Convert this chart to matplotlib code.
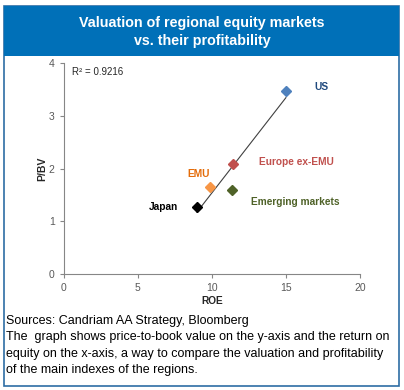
import numpy as np
from matplotlib import pyplot as plt
from matplotlib.patches import Rectangle

regions = ['US', 'Europe ex-EMU', 'EMU', 'Emerging markets', 'Japan']
roe = [15.0, 11.4, 9.86, 11.33, 8.99]
pbv = [3.47, 2.09, 1.65, 1.60, 1.27]
marker_colors = ['#4F81BD', '#C0504D', '#F79646', '#4F6228', '#000000']
label_colors = ['#1F497D', '#C0504D', '#E46C0A', '#4F6228', '#000000']
label_pos = [(17.4, 3.55), (15.7, 2.13), (9.1, 1.9), (15.6, 1.37), (6.76, 1.27)]
r2_text = 'R² = 0.9216'

plt.rcParams['font.family'] = ['Liberation Sans', 'DejaVu Sans']

fig = plt.figure(figsize=(4.04, 3.9), dpi=100)

# frame and header
fig.patches.append(Rectangle((0.0099, 0.0103), 0.978, 0.975, transform=fig.transFigure,
                             facecolor='white', edgecolor='#2E6DA4', linewidth=1.2, zorder=-2))
fig.patches.append(Rectangle((0.0099, 0.857), 0.978, 0.128, transform=fig.transFigure,
                             facecolor='#0070B8', edgecolor='none', zorder=-1))
fig.text(0.5, 0.918, 'Valuation of regional equity markets\nvs. their profitability',
         ha='center', va='center', color='white', fontsize=10.3, fontweight='bold',
         linespacing=1.42)

ax = fig.add_axes([0.158, 0.297, 0.733, 0.541])
ax.patch.set_alpha(0)
ax.set_xlim(0, 20)
ax.set_ylim(0, 4)
ax.set_xticks([0, 5, 10, 15, 20])
ax.set_yticks([0, 1, 2, 3, 4])
for s in ['top', 'right']:
    ax.spines[s].set_visible(False)
for s in ['left', 'bottom']:
    ax.spines[s].set_color('#868686')
    ax.spines[s].set_linewidth(0.8)
ax.tick_params(colors='#868686', labelcolor='#595959', labelsize=7.5, length=3, width=0.8)

# trend line
k, b = np.polyfit(roe, pbv, 1)
xs = np.array([min(roe), max(roe)])
ax.plot(xs, k * xs + b, color='#404040', linewidth=0.8, zorder=2)

for x, y, mc in zip(roe, pbv, marker_colors):
    ax.plot(x, y, marker='D', markersize=5.5, color=mc, linestyle='none', zorder=3)

for name, (lx, ly), lc in zip(regions, label_pos, label_colors):
    ax.text(lx, ly, name, color=lc, fontsize=7.3, fontweight='bold', ha='center', va='center')

ax.text(0.55, 3.83, r2_text, fontsize=7, color='#262626', ha='left', va='center')

ax.set_xlabel('ROE', fontsize=7.3, fontweight='bold', color='#262626', labelpad=2)
ax.set_ylabel('P/BV', fontsize=7.5, fontweight='bold', color='#262626', labelpad=1)

fig.text(0.014, 0.114, 'Sources: Candriam AA Strategy, Bloomberg\n'
         'The  graph shows price-to-book value on the y-axis and the return on\n'
         'equity on the x-axis, a way to compare the valuation and profitability\n'
         'of the main indexes of the regions.',
         ha='left', va='center', fontsize=9.0, color='black', linespacing=1.48)

fig.savefig('out.png', dpi=100)
